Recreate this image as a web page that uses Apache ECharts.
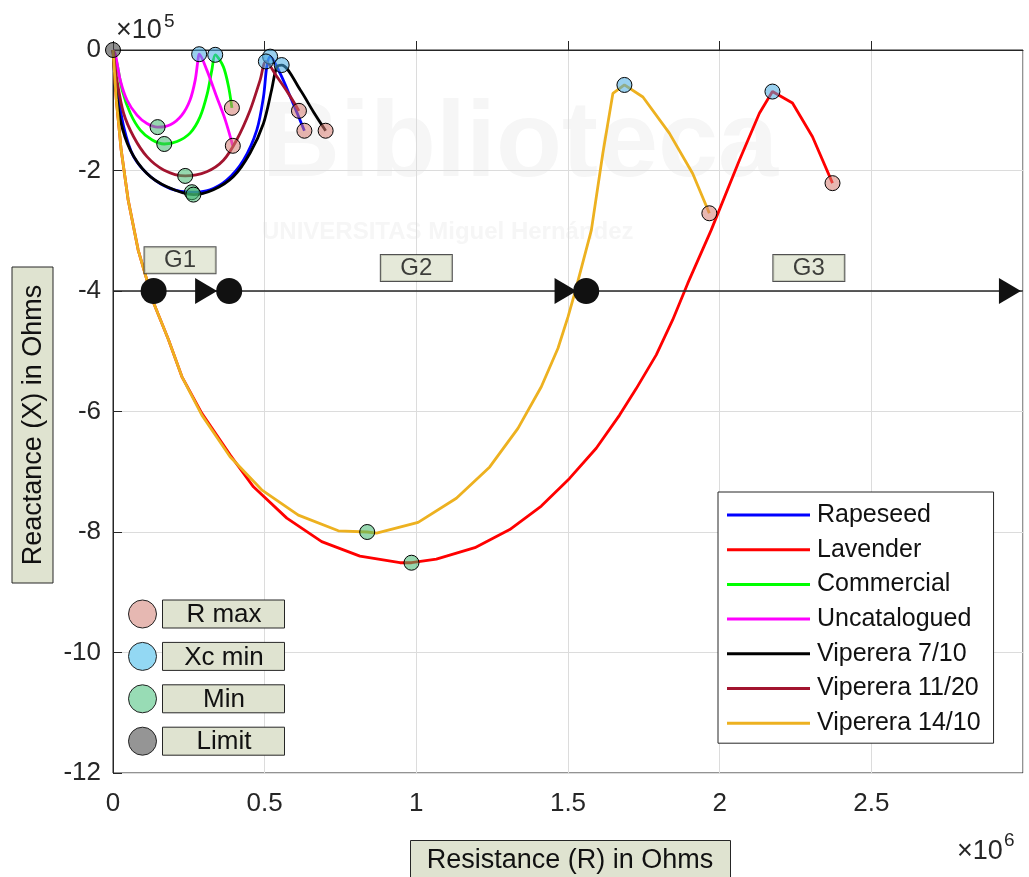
<!DOCTYPE html>
<html>
<head>
<meta charset="utf-8">
<script src="https://cdn.jsdelivr.net/npm/echarts@6.0.0/dist/echarts.min.js"></script>
<style>
html, body { margin: 0; padding: 0; background: #fff; }
#chart { width: 1029px; height: 877px; }
</style>
</head>
<body>
<div id="chart"></div>
<script>
// R in units of 1e6 Ohm, X in units of 1e5 Ohm
const seriesNames = ['Rapeseed', 'Lavender', 'Commercial', 'Uncatalogued', 'Viperera 7/10', 'Viperera 11/20', 'Viperera 14/10'];
const seriesColors = ['#0000ff', '#ff0000', '#00ff00', '#ff00ff', '#000000', '#a2142f', '#edb120'];

const rapeseed = [[0, 0], [0.013, -0.61], [0.035, -1.27], [0.068, -1.77], [0.123, -2.10], [0.189, -2.30], [0.260, -2.36], [0.320, -2.32], [0.375, -2.16], [0.430, -1.83], [0.474, -1.33], [0.496, -0.78], [0.507, -0.28], [0.518, -0.11], [0.551, -0.39], [0.589, -0.83], [0.631, -1.34]];
const lavender = [[0, 0], [0.011, -0.83], [0.027, -1.66], [0.050, -2.49], [0.083, -3.32], [0.134, -4.20], [0.183, -4.81], [0.227, -5.42], [0.293, -6.03], [0.386, -6.72], [0.463, -7.25], [0.573, -7.77], [0.688, -8.16], [0.814, -8.40], [0.946, -8.51], [0.984, -8.51], [1.066, -8.45], [1.193, -8.26], [1.308, -7.96], [1.412, -7.57], [1.505, -7.11], [1.593, -6.61], [1.670, -6.06], [1.725, -5.62], [1.791, -5.06], [1.845, -4.48], [1.895, -3.87], [1.972, -2.99], [2.065, -1.83], [2.131, -1.05], [2.174, -0.69], [2.240, -0.88], [2.306, -1.44], [2.372, -2.21]];
const commercial = [[0, 0], [0.013, -0.22], [0.030, -0.66], [0.057, -1.05], [0.090, -1.33], [0.128, -1.49], [0.169, -1.56], [0.211, -1.52], [0.254, -1.38], [0.287, -1.11], [0.311, -0.72], [0.326, -0.33], [0.337, -0.08], [0.364, -0.28], [0.381, -0.61], [0.392, -0.96]];
const uncatalogued = [[0, 0], [0.008, -0.08], [0.024, -0.50], [0.046, -0.83], [0.079, -1.08], [0.112, -1.22], [0.147, -1.28], [0.189, -1.24], [0.227, -1.08], [0.254, -0.83], [0.271, -0.50], [0.280, -0.17], [0.284, -0.07], [0.309, -0.33], [0.342, -0.78], [0.370, -1.16], [0.395, -1.59]];
const viperera7 = [[0, 0], [0.008, -0.55], [0.024, -1.16], [0.057, -1.66], [0.112, -2.05], [0.178, -2.27], [0.265, -2.40], [0.331, -2.32], [0.397, -2.10], [0.452, -1.71], [0.496, -1.22], [0.523, -0.66], [0.540, -0.28], [0.556, -0.25], [0.617, -0.66], [0.660, -1.02], [0.701, -1.34]];
const viperera11 = [[0, 0], [0.013, -0.50], [0.035, -1.05], [0.068, -1.44], [0.112, -1.77], [0.167, -1.99], [0.238, -2.09], [0.309, -2.02], [0.364, -1.83], [0.408, -1.49], [0.452, -1.00], [0.485, -0.50], [0.504, -0.19], [0.540, -0.44], [0.578, -0.72], [0.613, -1.01]];
const viperera14 = [[0, 0], [0.011, -0.83], [0.027, -1.66], [0.050, -2.49], [0.083, -3.32], [0.134, -4.20], [0.183, -4.81], [0.227, -5.42], [0.293, -6.06], [0.386, -6.75], [0.490, -7.30], [0.611, -7.72], [0.743, -7.98], [0.838, -8.00], [0.869, -8.02], [1.006, -7.84], [1.132, -7.44], [1.242, -6.92], [1.335, -6.28], [1.412, -5.59], [1.467, -4.95], [1.500, -4.43], [1.522, -4.04], [1.577, -2.99], [1.615, -1.71], [1.648, -0.72], [1.686, -0.58], [1.747, -0.78], [1.834, -1.38], [1.911, -2.05], [1.966, -2.71]];

const curves = [rapeseed, lavender, commercial, uncatalogued, viperera7, viperera11, viperera14];
const smoothCurve = [0.3, false, 0.3, 0.3, 0.3, 0.3, false];

// special points
const rMaxPts = [[0.631, -1.34], [2.372, -2.21], [0.392, -0.96], [0.395, -1.59], [0.701, -1.34], [0.613, -1.01], [1.966, -2.71]];
const xcMinPts = [[0.518, -0.11], [2.174, -0.69], [0.337, -0.08], [0.284, -0.07], [0.556, -0.25], [0.504, -0.19], [1.686, -0.58]];
const minPts = [[0.260, -2.36], [0.984, -8.51], [0.169, -1.56], [0.147, -1.28], [0.265, -2.40], [0.238, -2.09], [0.838, -8.00]];
const limitPts = [[0, 0]];

// G1 / G2 / G3 stage line
const stageY = -4;
const stageLine = [0, 3];
const stageDots = [0.134, 0.383, 1.560];
const stageArrows = [0.307, 1.492, 2.957];
const stageNames = ['G1', 'G2', 'G3'];
const stageNamePos = [[0.221, -3.49], [1.0, -3.62], [2.294, -3.62]];

const markerKinds = ['R max', 'Xc min', 'Min', 'Limit'];
const markerLegendFill = ['#e6b8b2', '#93d8f3', '#98dcb5', '#959595'];

const FONT = "'Liberation Sans', Arial, sans-serif";
const BOXFILL = '#dfe3d0';
const AXIS = '#262626';

const chart = echarts.init(document.getElementById('chart'));

const series = curves.map((d, i) => ({
  name: seriesNames[i],
  type: 'line',
  data: d,
  color: seriesColors[i],
  lineStyle: { width: 2.8, color: seriesColors[i] },
  symbol: 'none',
  smooth: smoothCurve[i],
  silent: true,
  z: 2
}));

series.push({
  type: 'line',
  data: stageLine.map(x => [x, stageY]),
  symbol: 'none',
  lineStyle: { color: AXIS, width: 1.3 },
  silent: true,
  z: 3
});
series.push({
  type: 'scatter',
  data: stageArrows.map(x => [x, stageY]),
  symbol: 'triangle',
  symbolRotate: -90,
  symbolSize: [26, 22],
  itemStyle: { color: '#111', opacity: 1 },
  silent: true,
  z: 4
});
series.push({
  type: 'scatter',
  data: stageDots.map(x => [x, stageY]),
  symbolSize: 26,
  itemStyle: { color: '#111', opacity: 1 },
  silent: true,
  z: 5
});
series.push({
  type: 'scatter',
  data: stageNames.map((n, i) => ({ name: n, value: stageNamePos[i] })),
  symbolSize: 1,
  itemStyle: { color: 'rgba(0,0,0,0)' },
  label: {
    show: true,
    position: 'inside',
    formatter: '{b}',
    fontFamily: FONT,
    fontSize: 24,
    color: '#111',
    backgroundColor: BOXFILL,
    borderColor: AXIS,
    borderWidth: 1,
    width: 71,
    height: 26,
    lineHeight: 26,
    align: 'center',
    verticalAlign: 'middle'
  },
  silent: true,
  z: 6
});

const markerSets = [
  [minPts, 'rgba(64,182,109,0.55)'],
  [xcMinPts, 'rgba(70,170,225,0.55)'],
  [rMaxPts, 'rgba(213,124,113,0.55)'],
  [limitPts, 'rgba(72,72,72,0.6)']
];
markerSets.forEach(([pts, col]) => {
  series.push({
    type: 'scatter',
    data: pts,
    symbolSize: 15,
    itemStyle: { color: col, borderColor: '#000', borderWidth: 1, opacity: 1 },
    silent: true,
    z: 7
  });
});

const graphic = [
  // faint watermark
  {
    type: 'text', z: -10, silent: true,
    style: { text: 'Biblioteca', x: 262, y: 92, font: 'bold 108px ' + FONT, fill: '#f6f6f6' }
  },
  {
    type: 'text', z: -10, silent: true,
    style: { text: 'UNIVERSITAS Miguel Hernández', x: 262, y: 220, font: 'bold 24px ' + FONT, fill: '#f6f6f6' }
  },
  // axis exponents
  {
    type: 'text',
    style: { text: '×10', x: 116, y: 17, font: '27px ' + FONT, fill: AXIS }
  },
  {
    type: 'text',
    style: { text: '5', x: 164, y: 12, font: '19px ' + FONT, fill: AXIS }
  },
  {
    type: 'text',
    style: { text: '×10', x: 957, y: 838, font: '27px ' + FONT, fill: AXIS }
  },
  {
    type: 'text',
    style: { text: '6', x: 1004, y: 831, font: '19px ' + FONT, fill: AXIS }
  },
  // x axis title box
  {
    type: 'rect', z: 50,
    shape: { x: 410.5, y: 840.5, width: 320, height: 50 },
    style: { fill: BOXFILL, stroke: AXIS, lineWidth: 1 }
  },
  {
    type: 'text', z: 51,
    style: { text: 'Resistance (R) in Ohms', x: 570, y: 861, font: '27px ' + FONT, fill: '#111', align: 'center', verticalAlign: 'middle', textAlign: 'center', textVerticalAlign: 'middle' }
  },
  // y axis title box
  {
    type: 'group', z: 50,
    x: 32.5, y: 425, rotation: Math.PI / 2,
    children: [
      {
        type: 'rect', z: 50,
        shape: { x: -158, y: -20.5, width: 316, height: 41 },
        style: { fill: BOXFILL, stroke: AXIS, lineWidth: 1 }
      },
      {
        type: 'text', z: 51,
        style: { text: 'Reactance (X) in Ohms', x: 0, y: 1, font: '27px ' + FONT, fill: '#111', align: 'center', verticalAlign: 'middle', textAlign: 'center', textVerticalAlign: 'middle' }
      }
    ]
  }
];

// marker-type legend
markerKinds.forEach((k, i) => {
  const cy = 614 + i * 42.4;
  graphic.push({
    type: 'circle', z: 50,
    shape: { cx: 142.5, cy: cy, r: 14 },
    style: { fill: markerLegendFill[i], stroke: '#222', lineWidth: 1 }
  });
  graphic.push({
    type: 'rect', z: 50,
    shape: { x: 162.5, y: cy - 14, width: 122, height: 28 },
    style: { fill: BOXFILL, stroke: AXIS, lineWidth: 1 }
  });
  graphic.push({
    type: 'text', z: 51,
    style: { text: k, x: 224, y: cy + 1, font: '26px ' + FONT, fill: '#111', align: 'center', verticalAlign: 'middle', textAlign: 'center', textVerticalAlign: 'middle' }
  });
});

chart.setOption({
  animation: false,
  backgroundColor: '#fff',
  grid: {
    left: 113, right: 6, top: 50, bottom: 104,
    show: true, borderColor: AXIS, borderWidth: 1, backgroundColor: 'transparent'
  },
  legend: {
    data: seriesNames,
    orient: 'vertical',
    left: 718, top: 492,
    icon: 'rect',
    itemWidth: 83, itemHeight: 3,
    itemGap: 8.7,
    padding: [10, 13, 7, 9],
    backgroundColor: '#fff',
    borderColor: AXIS,
    borderWidth: 1,
    selectedMode: false,
    textStyle: { fontFamily: FONT, fontSize: 25, color: '#111', lineHeight: 26, padding: [0, 0, 0, 2] }
  },
  xAxis: {
    type: 'value',
    min: 0, max: 3, interval: 0.5,
    axisLine: { show: true, lineStyle: { color: AXIS, width: 1 } },
    axisTick: { show: true, inside: true, length: 9, lineStyle: { color: AXIS } },
    axisLabel: { showMaxLabel: false, fontFamily: FONT, fontSize: 26, color: AXIS, margin: 18 },
    splitLine: { show: true, lineStyle: { color: '#dcdcdc', width: 1 } }
  },
  yAxis: {
    type: 'value',
    min: -12, max: 0, interval: 2,
    axisLine: { show: true, lineStyle: { color: AXIS, width: 1 } },
    axisTick: { show: true, inside: true, length: 9, lineStyle: { color: AXIS } },
    axisLabel: { fontFamily: FONT, fontSize: 26, color: AXIS, margin: 12 },
    splitLine: { show: true, lineStyle: { color: '#dcdcdc', width: 1 } }
  },
  graphic: graphic,
  series: series
});
</script>
</body>
</html>
